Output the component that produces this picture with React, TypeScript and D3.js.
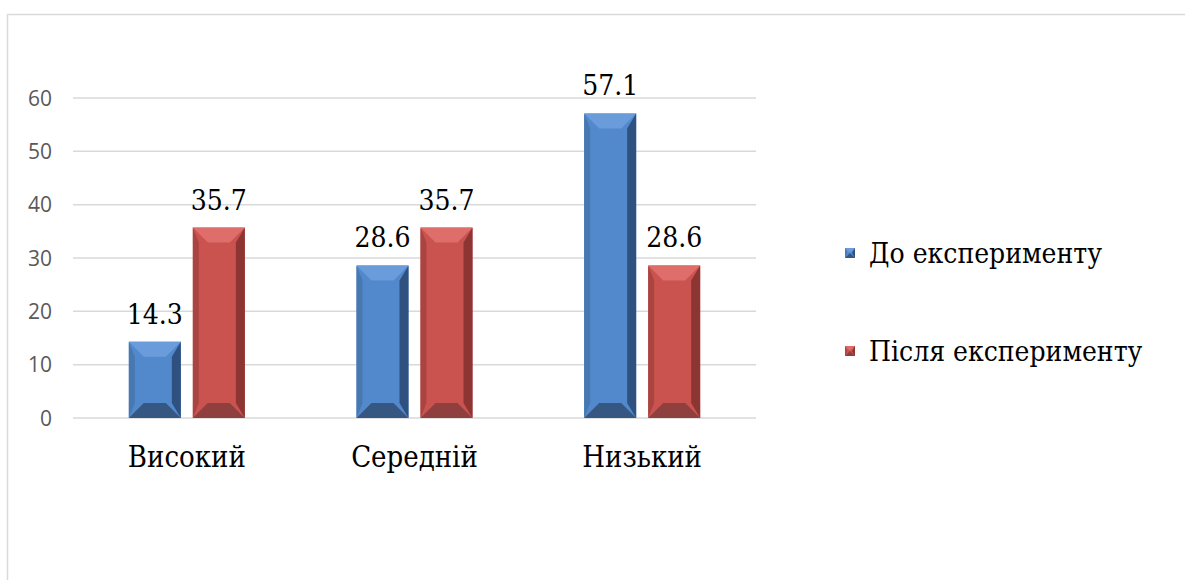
import React from "react";
import * as d3 from "d3";

const categories = ["Високий", "Середній", "Низький"];
const seriesNames = ["До експерименту", "Після експерименту"];
const beforeValues = [14.3, 28.6, 57.1];
const afterValues = [35.7, 35.7, 28.6];
const yTicks = [0, 10, 20, 30, 40, 50, 60];

// bevel palettes per series
const palettes = [
  { face: "#5288CC", top: "#6A9CDC", left: "#4878B0", right: "#2F5180", bottom: "#365781" },
  { face: "#CA5350", top: "#DF6D69", left: "#AA4441", right: "#8C3533", bottom: "#8F3F3D" },
];

const W = 1185;
const H = 580;
const plotLeft = 73;
const plotRight = 756;

const serif = "DejaVu Serif Condensed, DejaVu Serif";

type BevelProps = { x: number; y: number; w: number; h: number; b: number; p: (typeof palettes)[number] };

const Bevel = ({ x, y, w, h, b, p }: BevelProps) => {
  const bb = Math.min(b, h / 2, w / 2);
  const pts = (arr: number[][]) => arr.map((q) => q.join(",")).join(" ");
  return (
    <g>
      <rect x={x} y={y} width={w} height={h} fill={p.face} />
      <polygon points={pts([[x, y], [x + w, y], [x + w - bb, y + bb], [x + bb, y + bb]])} fill={p.top} />
      <polygon points={pts([[x, y + h], [x + w, y + h], [x + w - bb, y + h - bb], [x + bb, y + h - bb]])} fill={p.bottom} />
      <polygon points={pts([[x, y], [x + bb * 0.4, y + bb], [x + bb * 0.4, y + h - bb], [x, y + h]])} fill={p.left} />
      <polygon points={pts([[x + w, y], [x + w - bb * 0.6, y + bb], [x + w - bb * 0.6, y + h - bb], [x + w, y + h]])} fill={p.right} />
    </g>
  );
};

const App = () => {
  const y = d3.scaleLinear().domain([0, 60]).range([418, 98]);
  const x0 = d3.scaleBand<string>().domain(categories).range([plotLeft, plotRight]).padding(0);
  const groupW = 116;
  const x1 = d3.scaleBand<number>().domain([0, 1]).range([0, groupW]).paddingInner(0.1875).paddingOuter(0);
  const series = [beforeValues, afterValues];

  return (
    <svg width={W} height={H} style={{ position: "absolute", left: 0, top: 0, background: "#fff" }}>
      <rect x={7.5} y={14.5} width={W + 10} height={H + 10} fill="#fff" stroke="#D9D9D9" strokeWidth={1.5} />

      {yTicks.map((t) => (
        <g key={t}>
          <line x1={plotLeft} x2={plotRight} y1={y(t)} y2={y(t)} stroke="#D9D9D9" strokeWidth={1.5} />
          <text x={52} y={y(t)} dy="0.36em" textAnchor="end" fontFamily="Open Sans" fontSize={21} fill="#595959">
            {t}
          </text>
        </g>
      ))}

      {categories.map((c, ci) => {
        const gx = (x0(c) ?? 0) + (x0.bandwidth() - groupW) / 2;
        return (
          <g key={c}>
            {series.map((vals, si) => {
              const v = vals[ci];
              const bx = gx + (x1(si) ?? 0);
              const bw = x1.bandwidth();
              const top = y(v);
              return (
                <g key={si}>
                  <Bevel x={bx} y={top} w={bw} h={y(0) - top} b={15} p={palettes[si]} />
                  <text x={bx + bw / 2} y={top - 18} textAnchor="middle" fontFamily={serif} fontSize={28} fill="#000">
                    {v.toFixed(1)}
                  </text>
                </g>
              );
            })}
            <text
              x={(x0(c) ?? 0) + x0.bandwidth() / 2}
              y={467}
              textAnchor="middle"
              fontFamily={serif}
              fontSize={29}
              fill="#000"
            >
              {c}
            </text>
          </g>
        );
      })}

      {seriesNames.map((s, si) => {
        const ly = 248 + si * 98;
        return (
          <g key={s}>
            <Bevel x={845} y={ly} w={10} h={10} b={5} p={palettes[si]} />
            <text x={869} y={ly + 15} fontFamily={serif} fontSize={28} fill="#000">
              {s}
            </text>
          </g>
        );
      })}
    </svg>
  );
};

export default App;
